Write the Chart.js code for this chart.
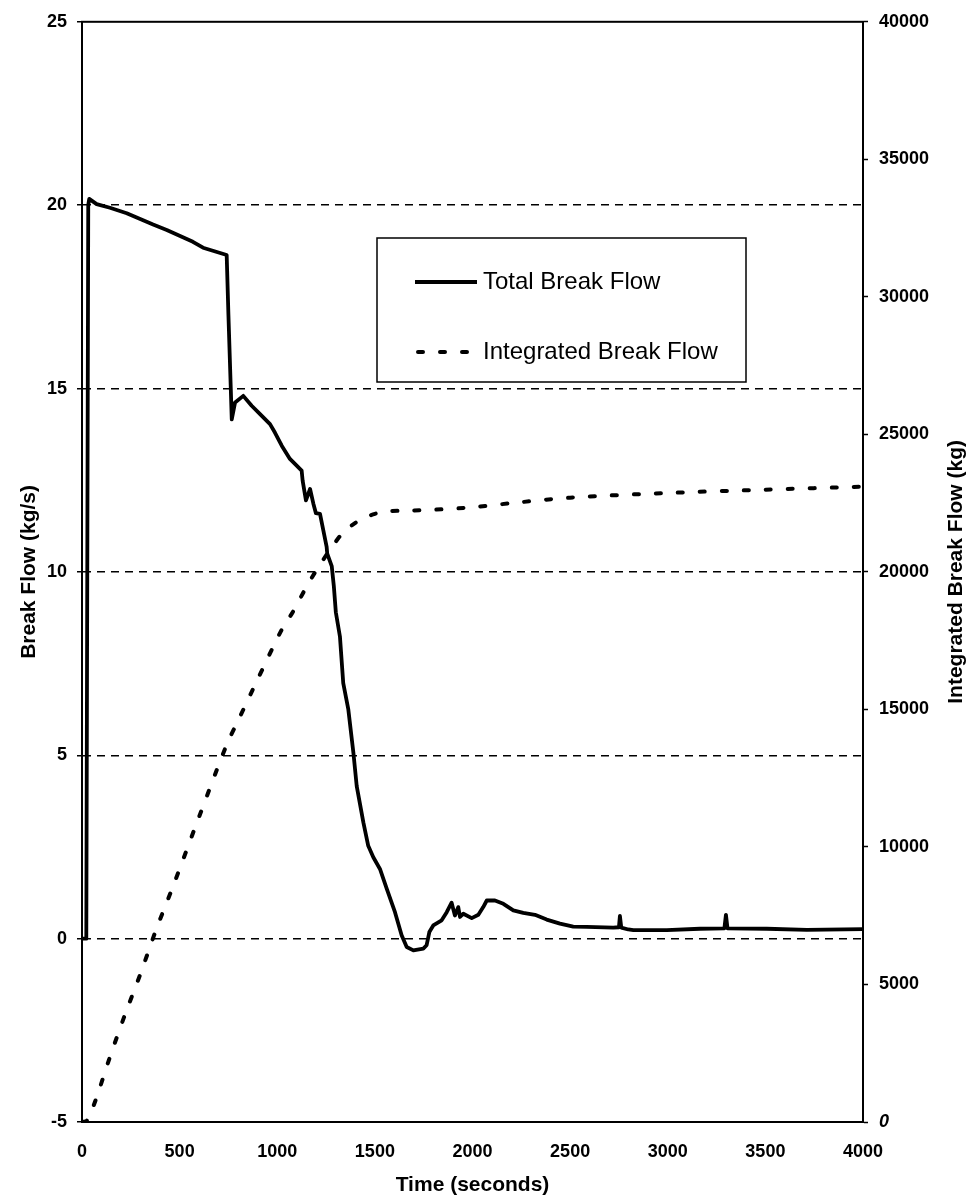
<!DOCTYPE html>
<html>
<head>
<meta charset="utf-8">
<script src="https://cdn.jsdelivr.net/npm/chart.js@4.4.1/dist/chart.umd.min.js"></script>
<style>
  html, body { margin: 0; padding: 0; background: #fff; }
  #wrap { width: 972px; height: 1204px; }
</style>
</head>
<body>
<div id="wrap"><canvas id="flowChart" width="972" height="1204"></canvas></div>
<script>
// values
const timeTotal = [0, 22, 32, 37, 75, 143, 229, 364, 434, 568, 620, 741, 750, 762, 767, 784, 826, 869, 912, 963,
  988, 1023, 1065, 1125, 1130, 1147, 1168, 1185, 1198, 1219, 1236, 1253, 1256, 1279, 1290, 1300, 1321, 1338, 1364, 1390,
  1407, 1441, 1466, 1492, 1526, 1561, 1603, 1637, 1663, 1697, 1748, 1765, 1779, 1799, 1842, 1868, 1893, 1910, 1927, 1936,
  1953, 1996, 2030, 2055, 2073, 2115, 2158, 2209, 2260, 2320, 2380, 2448, 2516, 2585, 2721, 2750, 2755, 2762, 2798, 2824,
  2995, 3165, 3290, 3298, 3306, 3507, 3712, 4000];
const totalFlow = [0, 0, 20.0, 20.17, 20.03, 19.93, 19.78, 19.47, 19.32, 19.0, 18.84, 18.64, 17.0, 15.0, 14.16, 14.62, 14.80, 14.53, 14.30, 14.03,
  13.80, 13.44, 13.08, 12.76, 12.49, 11.95, 12.26, 11.86, 11.60, 11.58, 11.13, 10.68, 10.50, 10.16, 9.6, 8.9, 8.24, 6.97, 6.25, 5.07,
  4.16, 3.17, 2.53, 2.22, 1.90, 1.36, 0.72, 0.09, -0.23, -0.32, -0.27, -0.18, 0.18, 0.36, 0.50, 0.72, 0.98, 0.63, 0.86, 0.59,
  0.68, 0.56, 0.65, 0.86, 1.04, 1.04, 0.95, 0.77, 0.70, 0.65, 0.52, 0.41, 0.33, 0.32, 0.30, 0.31, 0.62, 0.30, 0.25, 0.23,
  0.23, 0.27, 0.28, 0.65, 0.28, 0.27, 0.24, 0.26];

const timeIntegrated = [0, 25, 70, 140, 220, 300, 380, 468, 600, 740, 800, 900, 1023, 1082, 1142, 1202, 1270, 1338, 1400, 1441,
  1500, 1561, 1680, 1800, 2000, 2200, 2500, 3000, 3500, 4000];
const integratedFlow = [0, 50, 800, 2300, 3900, 5400, 7000, 8600, 11100, 13700, 14600, 16100, 17900, 18570, 19360, 20080, 20800, 21440, 21780, 21950,
  22110, 22200, 22230, 22260, 22350, 22500, 22700, 22870, 22990, 23100];

const timeTicks = [0, 500, 1000, 1500, 2000, 2500, 3000, 3500, 4000];
const flowTicks = [-5, 0, 5, 10, 15, 20, 25];
const massTicks = [0, 5000, 10000, 15000, 20000, 25000, 30000, 35000, 40000];

const rightTitle = 'Integrated Break Flow (kg)';
const FONT = '"Liberation Sans", Arial, sans-serif';

function toPoints(xs, ys) {
  return xs.map((x, i) => ({ x: x, y: ys[i] }));
}

const framePlugin = {
  id: 'frame',
  afterDraw(chart) {
    const a = chart.chartArea;
    const c = chart.ctx;
    c.save();
    c.strokeStyle = '#000';
    c.lineWidth = 2;
    c.strokeRect(a.left, a.top, a.right - a.left, a.bottom - a.top);

    // right axis title reads bottom to top
    c.translate(956, (a.top + a.bottom) / 2);
    c.rotate(-Math.PI / 2);
    c.fillStyle = '#000';
    c.font = 'bold 21px ' + FONT;
    c.textAlign = 'center';
    c.textBaseline = 'middle';
    c.fillText(rightTitle, 0, 0);
    c.restore();
  }
};

const legendPlugin = {
  id: 'legendBox',
  afterDraw(chart) {
    const c = chart.ctx;
    const sets = chart.data.datasets;
    c.save();
    c.fillStyle = '#fff';
    c.fillRect(377, 238, 369, 144);
    c.strokeStyle = '#000';
    c.lineWidth = 1.5;
    c.strokeRect(377, 238, 369, 144);
    c.font = '24px ' + FONT;
    c.textBaseline = 'middle';
    c.fillStyle = '#000';
    const rows = [282, 352];
    sets.forEach((ds, i) => {
      const y = rows[i];
      c.beginPath();
      c.setLineDash(i === 0 ? [] : [5, 17]);
      c.lineCap = i === 0 ? 'butt' : 'round';
      c.lineWidth = ds.borderWidth;
      c.moveTo(i === 0 ? 415 : 418, y);
      c.lineTo(477, y);
      c.stroke();
      c.setLineDash([]);
      c.fillText(ds.label, 483, y);
    });
    c.restore();
  }
};

const tickFont = { family: FONT, size: 18, weight: 'bold' };
const plain = v => String(v);

new Chart(document.getElementById('flowChart'), {
  type: 'line',
  data: {
    datasets: [{
      label: 'Total Break Flow',
      data: toPoints(timeTotal, totalFlow),
      yAxisID: 'y',
      borderColor: '#000',
      borderWidth: 3.8,
      pointRadius: 0,
      tension: 0,
      borderJoinStyle: 'round'
    }, {
      label: 'Integrated Break Flow',
      data: toPoints(timeIntegrated, integratedFlow),
      yAxisID: 'y1',
      borderColor: '#000',
      borderWidth: 4,
      borderDash: [5, 17],
      borderCapStyle: 'round',
      pointRadius: 0,
      tension: 0.3
    }]
  },
  options: {
    responsive: false,
    animation: false,
    layout: { padding: { top: 17, left: 0, right: 0, bottom: 0 } },
    plugins: { legend: { display: false }, tooltip: { enabled: false } },
    scales: {
      x: {
        type: 'linear',
        min: 0, max: 4000,
        afterBuildTicks: s => { s.ticks = timeTicks.map(v => ({ value: v })); },
        afterFit: s => { s.height = 82; },
        grid: { display: false, drawTicks: false },
        border: { display: true, color: '#000', width: 2 },
        ticks: { color: '#000', font: tickFont, padding: 19, maxRotation: 0, callback: plain },
        title: { display: true, text: 'Time (seconds)', color: '#000',
          font: { family: FONT, size: 21, weight: 'bold' }, padding: { top: 0, bottom: 6 } }
      },
      y: {
        position: 'left',
        min: -5, max: 25,
        afterBuildTicks: s => { s.ticks = flowTicks.map(v => ({ value: v })); },
        afterFit: s => { s.width = 82; },
        grid: {
          color: ctx => (ctx.tick && (ctx.tick.value === 25 || ctx.tick.value === -5)) ? 'rgba(0,0,0,0)' : '#000',
          lineWidth: 1.5,
          tickColor: '#000',
          tickLength: 5,
          tickWidth: 1.5
        },
        border: { display: true, color: '#000', width: 2, dash: [8, 6] },
        ticks: { color: '#000', font: tickFont, padding: 10, callback: plain },
        title: { display: true, text: 'Break Flow (kg/s)', color: '#000',
          font: { family: FONT, size: 21, weight: 'bold' }, padding: { top: 17, bottom: 0 } }
      },
      y1: {
        position: 'right',
        min: 0, max: 40000,
        afterBuildTicks: s => { s.ticks = massTicks.map(v => ({ value: v })); },
        afterFit: s => { s.width = 109; },
        grid: { drawOnChartArea: false, color: '#000', tickLength: 5, tickWidth: 1.5 },
        border: { display: true, color: '#000', width: 2 },
        ticks: {
          color: '#000',
          padding: 11,
          callback: plain,
          font: ctx => (ctx.tick && ctx.tick.value === 0)
            ? { family: FONT, size: 18, weight: 'bold', style: 'italic' }
            : tickFont
        }
      }
    }
  },
  plugins: [framePlugin, legendPlugin]
});
</script>
</body>
</html>
